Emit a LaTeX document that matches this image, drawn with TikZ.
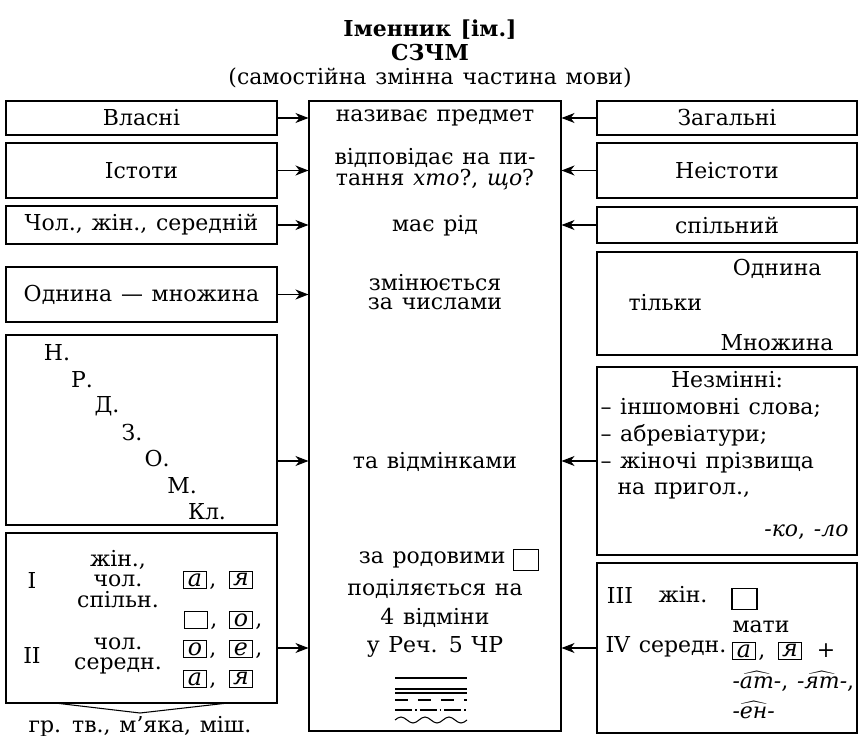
\documentclass[tikz,border=0pt]{standalone}
\usepackage{fontspec}
\setmainfont{DejaVu Serif}[WordSpace=1.25]
\usetikzlibrary{arrows.meta,positioning}

\begin{document}
\begin{tikzpicture}[x=0.2mm,y=-0.2mm,
    font=\fontsize{12.5}{11}\selectfont,
    line width=0.6pt,
    box/.style={draw, inner sep=0pt, align=center},
    lbox/.style={box, minimum width=54.2mm},
    rbox/.style={box, minimum width=52mm},
    lett/.style={draw, inner sep=0pt, minimum width=4.5mm, minimum height=3.3mm,
      font=\fontsize{13.5}{11}\selectfont\itshape},
    emptybox/.style={draw, inner sep=0pt, minimum width=5mm, minimum height=4.2mm},
    arr/.style={-{Stealth[length=2.6mm,width=2mm,inset=0.8mm]}}]
    \useasboundingbox (0,0) rectangle (860,736);
    % heading
    \node[font=\fontsize{12.5}{12}\selectfont\bfseries] (title) at (430,30) {Іменник [ім.]};
    \node[font=\fontsize{12.5}{12}\selectfont\bfseries] (abbr) at (430,53) {СЗЧМ};
    \node (subtitle) at (430,78) {(самостійна змінна частина мови)};
    % middle column
    \node[box, minimum width=50.4mm, minimum height=126mm] (cbox) at (435,416) {};
    \node (c1) at (435,118) {називає предмет};
    \node[align=center] (c2) at (435,169) {відповідає на пи-\\тання \textit{хто}?, \textit{що}?};
    \node (c3) at (435,226) {має рід};
    \node[align=center] (c4) at (435,292) {змінюється\\за числами};
    \node (c5) at (435,462) {та відмінками};
    \node[anchor=east, inner sep=0pt] (c6) at (506,560) {за родовими};
    \node[emptybox, right=1.4mm of c6] (c6box) {};
    \node (c7) at (435,589) {поділяється на};
    \node (c8) at (435,618) {4 відміни};
    \node (c9) at (435,647) {у Реч. 5 ЧР};
    \draw (395,678) -- (467,678);
    \draw[line width=0.9pt] (395,689) -- (467,689);
    \draw[line width=0.9pt] (395,693) -- (467,693);
    \draw[dash pattern=on 2.6mm off 2mm] (395,700) -- (467,700);
    \draw[dash pattern=on 3.4mm off 0.6mm on 0.3mm off 0.6mm] (395,710) -- (467,710);
    \draw (395,720) \foreach \k in {0,1,2} {sin ({401+24*\k},717) cos ({407+24*\k},720)
      sin ({413+24*\k},723) cos ({419+24*\k},720)};
    % left column
    \node[lbox, minimum height=6.8mm] (lb1) at (141.5,118) {Власні};
    \node[lbox, minimum height=11mm] (lb2) at (141.5,170.5) {Істоти};
    \node[lbox, minimum height=7.6mm] (lb3) at (141.5,225) {Чол., жін., середній};
    \node[lbox, minimum height=11mm] (lb4) at (141.5,294.5) {Однина — множина};
    \node[lbox, minimum height=38mm] (lb5) at (141.5,430) {};
    \node[lbox, minimum height=34mm] (lb6) at (141.5,618) {};
    \foreach \c [count=\i] in {Н.,Р.,Д.,З.,О.,М.,Кл.}
      \node (case\i) at ({32+25*\i},{326.5+26.5*\i}) {\c};
    \node (d1) at (32,580) {I};
    \node[align=center, font=\fontsize{12.5}{11.5}\selectfont] (g1) at (118,579) {жін.,\\чол.\\спільн.};
    \node (d2) at (32,655) {II};
    \node[align=center, font=\fontsize{12.5}{11.5}\selectfont] (g2) at (118,656) {чол.\\середн.};
    \node[lett] (ia) at (195,580) {а};
    \node[lett] (iya) at (241,580) {я};
    \node[lett] (iie) at (196,620) {};
    \node[lett] (iio) at (241,620) {о};
    \node[lett] (iio2) at (195,649) {о};
    \node[lett] (iie2) at (241,649) {е};
    \node[lett] (iia) at (195,679) {а};
    \node[lett] (iiya) at (241,679) {я};
    \draw (55,703) -- (140,713) -- (228,703);
    \node (grp) at (140,727) {гр. тв., м’яка, міш.};
    % right column
    \node[rbox, minimum height=6.8mm] (rb1) at (727,118) {Загальні};
    \node[rbox, minimum height=11mm] (rb2) at (727,170.5) {Неістоти};
    \node[rbox, minimum height=7.2mm] (rb3) at (727,225) {спільний};
    \node[rbox, minimum height=20.6mm] (rb4) at (727,303.5) {};
    \node[rbox, minimum height=37.6mm] (rb5) at (727,461) {};
    \node[rbox, minimum height=34mm] (rb6) at (727,648) {};
    \node[anchor=east, inner sep=0pt] (sg) at (822,269) {Однина};
    \node[anchor=west, inner sep=0pt] (only) at (628,303) {тільки};
    \node[anchor=east, inner sep=0pt] (pl) at (834,343) {Множина};
    \node (ind) at (727,380) {Незмінні:};
    \node[anchor=west, inner sep=0pt] (ind1) at (600,408) {– іншомовні слова;};
    \node[anchor=west, inner sep=0pt] (ind2) at (600,435) {– абревіатури;};
    \node[anchor=west, inner sep=0pt] (ind3) at (600,463) {– жіночі прізвища};
    \node[anchor=west, inner sep=0pt] (ind4) at (617,491) {на пригол.,};
    \node[anchor=east, inner sep=0pt] (ind5) at (849,532) {\textit{-ко}, \textit{-ло}};
    \node (d3) at (620,595) {III};
    \node (g3) at (683,595) {жін.};
    \node[emptybox] (rz) at (744.5,599) {};
    \node[anchor=west, inner sep=0pt] (mat) at (732,627) {мати};
    \node[anchor=west, inner sep=0pt] (d4) at (605,647) {IV середн.};
    \node[lett] (ra) at (744,651) {а};
    \node[lett] (rya) at (790,651) {я};
    \node (plus) at (826,651) {+};
    \node[anchor=west, inner sep=0pt] (suf1) at (732,681)
      {\textit{-}$\widehat{\mbox{\itshape ат}}$\textit{-}, \textit{-}$\widehat{\mbox{\itshape ят}}$\textit{-},};
    \node[anchor=west, inner sep=0pt] (suf2) at (732,710) {\textit{-}$\widehat{\mbox{\itshape ен}}$\textit{-}};
    \foreach \b in {ia,iie,iio,iio2,iie2,iia,ra}
      \node[anchor=base west, inner sep=0.4mm] at ([yshift=0.5mm]\b.south east) {,};
    % arrows
    \foreach \n in {lb1,lb2,lb3,lb4}
      \draw[arr] (\n.east) -- (\n.east -| cbox.west);
    \draw[arr] (lb5.east |- rb5) -- (cbox.west |- rb5);
    \draw[arr] (lb6.east |- rb6) -- (cbox.west |- rb6);
    \foreach \n in {rb1,rb2,rb3,rb5,rb6}
      \draw[arr] (\n.west) -- (\n.west -| cbox.east);
  \end{tikzpicture}
\end{document}
